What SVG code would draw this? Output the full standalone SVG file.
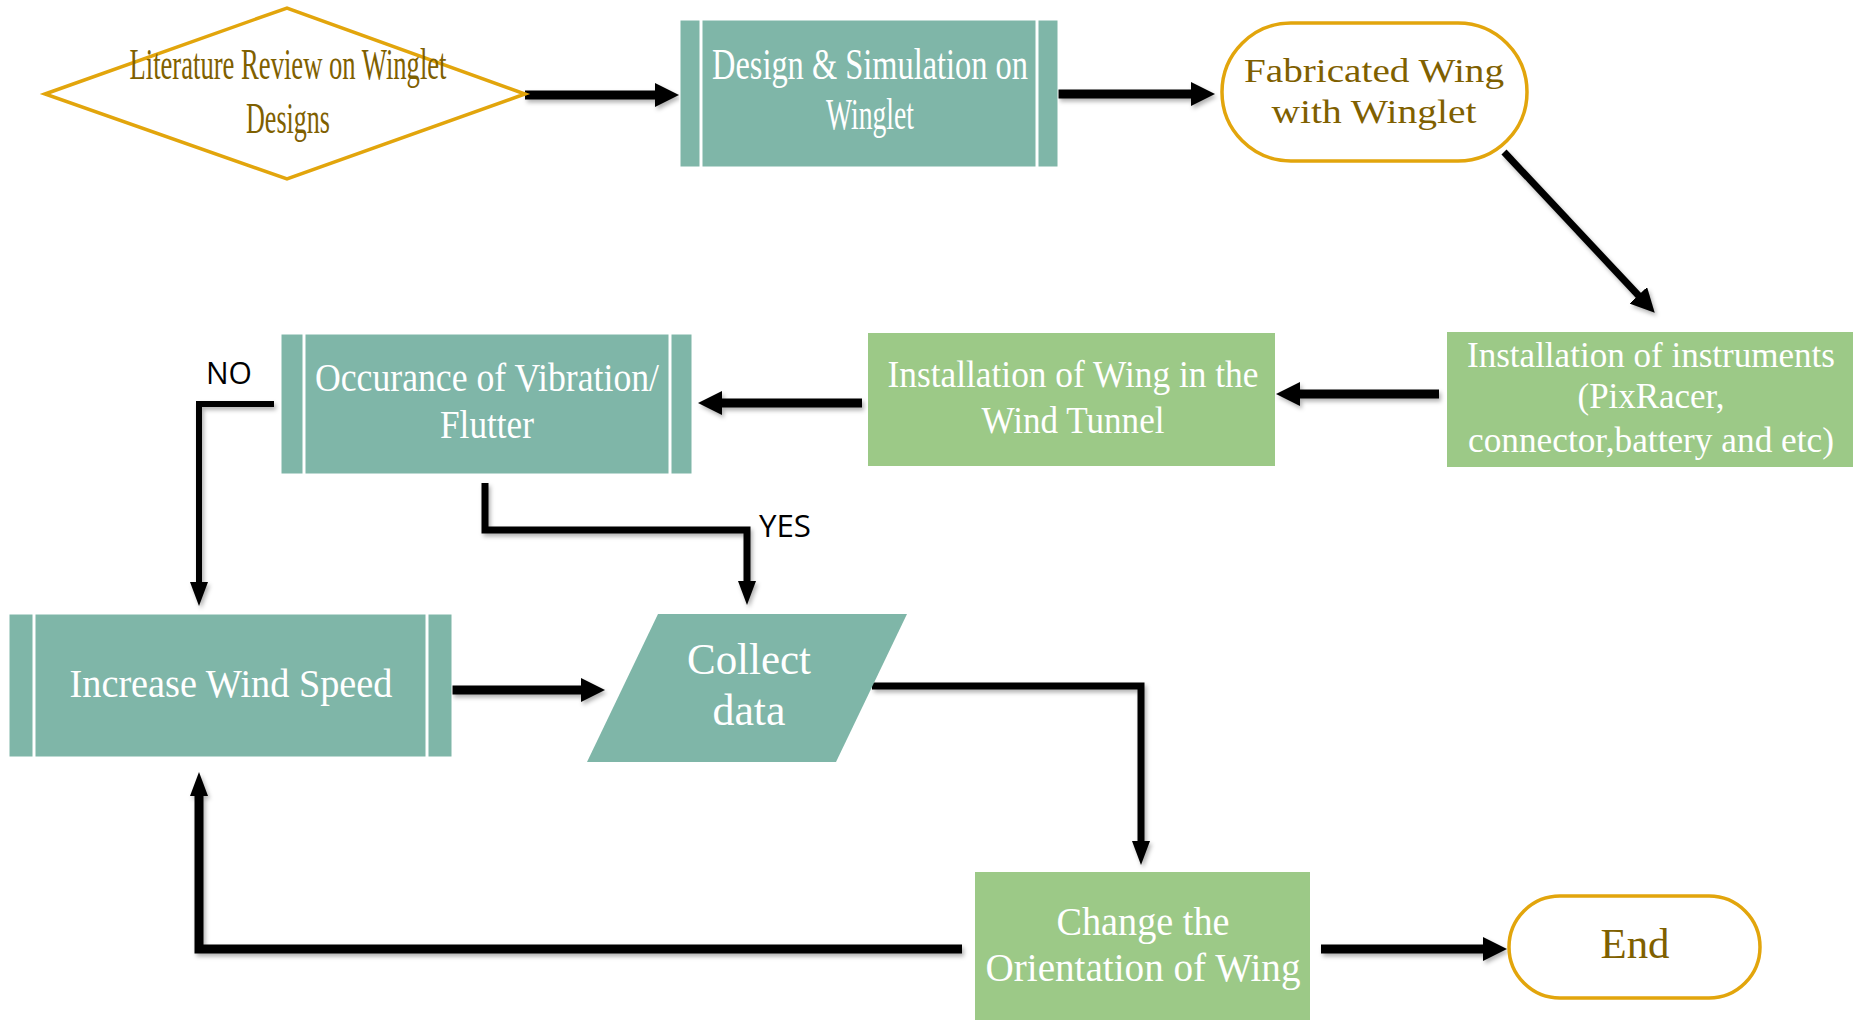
<svg xmlns="http://www.w3.org/2000/svg" width="1860" height="1020" viewBox="0 0 1860 1020">
<style>
.teal{fill:#7fb6a8;stroke:#ffffff;stroke-width:1}
.green{fill:#9cc987}
.div{stroke:#ffffff;stroke-width:3}
.term{fill:#ffffff;stroke:#e2a50c;stroke-width:3.5}
.tw{font-family:"Liberation Serif","Times New Roman",serif;fill:#ffffff;text-anchor:middle}
.tb{font-family:"Liberation Serif","Times New Roman",serif;fill:#7f6000;text-anchor:middle}
.lab{font-family:"Open Sans","Liberation Sans",sans-serif;fill:#000000;text-anchor:middle;font-size:31px}
.con{fill:none;stroke:#000000;stroke-linejoin:miter}
</style>
<defs>
<marker id="ah" markerUnits="userSpaceOnUse" viewBox="0 0 24 24" markerWidth="24" markerHeight="24" refX="1" refY="12" orient="auto">
<path d="M0,0 L24,12 L0,24 z" fill="#000"/>
</marker>
<marker id="ahs" markerUnits="userSpaceOnUse" viewBox="0 0 24 18" markerWidth="24" markerHeight="18" refX="1" refY="9" orient="auto">
<path d="M0,0 L24,9 L0,18 z" fill="#000"/>
</marker>
<filter id="sh" x="-5%" y="-5%" width="110%" height="120%">
<feDropShadow dx="2" dy="3" stdDeviation="2" flood-color="#000" flood-opacity="0.3"/>
</filter>
</defs>

<g id="connectors" filter="url(#sh)">
<path class="con" stroke-width="9" d="M525,95 L656,95" marker-end="url(#ah)"/>
<path class="con" stroke-width="9" d="M1058,94 L1192,94" marker-end="url(#ah)"/>
<path class="con" stroke-width="7" d="M1504,152 L1639,296" marker-end="url(#ah)"/>
<path class="con" stroke-width="9" d="M1439,394 L1299,394" marker-end="url(#ah)"/>
<path class="con" stroke-width="9" d="M862,403 L721,403" marker-end="url(#ah)"/>
<path class="con" stroke-width="6" d="M274,404 L199,404 L199,583" marker-end="url(#ahs)"/>
<path class="con" stroke-width="7" d="M485,483 L485,530 L747,530 L747,582" marker-end="url(#ahs)"/>
<path class="con" stroke-width="9" d="M452,690 L582,690" marker-end="url(#ah)"/>
<path class="con" stroke-width="7" d="M872,686 L1141,686 L1141,842" marker-end="url(#ahs)"/>
<path class="con" stroke-width="9" d="M962,949 L199,949 L199,795" marker-end="url(#ahs)"/>
<path class="con" stroke-width="9" d="M1321,949 L1484,949" marker-end="url(#ah)"/>
</g>

<g id="literature-review">
<polygon class="term" points="45,94 287,8 525,94 287,179"/>
<text class="tb" x="288" y="79" font-size="45" textLength="317" lengthAdjust="spacingAndGlyphs">Literature Review on Winglet</text>
<text class="tb" x="288" y="133" font-size="45" textLength="84" lengthAdjust="spacingAndGlyphs">Designs</text>
</g>

<g id="design-simulation">
<rect class="teal" x="680" y="20" width="378" height="147"/>
<line class="div" x1="701" y1="20" x2="701" y2="167"/>
<line class="div" x1="1037" y1="20" x2="1037" y2="167"/>
<text class="tw" x="870" y="79" font-size="44" textLength="316" lengthAdjust="spacingAndGlyphs">Design &amp; Simulation on</text>
<text class="tw" x="870" y="129" font-size="44" textLength="88" lengthAdjust="spacingAndGlyphs">Winglet</text>
</g>

<g id="fabricated-wing">
<rect class="term" x="1222" y="23" width="305" height="138" rx="69" ry="69"/>
<text class="tb" x="1374" y="82" font-size="34" textLength="260" lengthAdjust="spacingAndGlyphs">Fabricated Wing</text>
<text class="tb" x="1374" y="123" font-size="34" textLength="205" lengthAdjust="spacingAndGlyphs">with Winglet</text>
</g>

<g id="install-instruments">
<rect class="green" x="1447" y="332" width="406" height="135"/>
<text class="tw" x="1651" y="367" font-size="35" textLength="368" lengthAdjust="spacingAndGlyphs">Installation of instruments</text>
<text class="tw" x="1651" y="408" font-size="35" textLength="147" lengthAdjust="spacingAndGlyphs">(PixRacer,</text>
<text class="tw" x="1651" y="452" font-size="35" textLength="366" lengthAdjust="spacingAndGlyphs">connector,battery and etc)</text>
</g>

<g id="install-wing">
<rect class="green" x="868" y="333" width="407" height="133"/>
<text class="tw" x="1073" y="387" font-size="38" textLength="371" lengthAdjust="spacingAndGlyphs">Installation of Wing in the</text>
<text class="tw" x="1073" y="433" font-size="38" textLength="183" lengthAdjust="spacingAndGlyphs">Wind Tunnel</text>
</g>

<g id="occurance">
<rect class="teal" x="281" y="334" width="411" height="140"/>
<line class="div" x1="304" y1="334" x2="304" y2="474"/>
<line class="div" x1="670" y1="334" x2="670" y2="474"/>
<text class="tw" x="487" y="391" font-size="41" textLength="344" lengthAdjust="spacingAndGlyphs">Occurance of Vibration/</text>
<text class="tw" x="487" y="438" font-size="41" textLength="94" lengthAdjust="spacingAndGlyphs">Flutter</text>
</g>

<g id="label-no"><text class="lab" x="229" y="384" textLength="46" lengthAdjust="spacingAndGlyphs">NO</text></g>
<g id="label-yes"><text class="lab" x="785" y="537" textLength="52" lengthAdjust="spacingAndGlyphs">YES</text></g>

<g id="increase-speed">
<rect class="teal" x="9" y="614" width="443" height="143"/>
<line class="div" x1="34" y1="614" x2="34" y2="757"/>
<line class="div" x1="427" y1="614" x2="427" y2="757"/>
<text class="tw" x="231" y="697" font-size="41" textLength="323" lengthAdjust="spacingAndGlyphs">Increase Wind Speed</text>
</g>

<g id="collect-data">
<polygon fill="#7fb6a8" points="658,614 907,614 836,762 587,762"/>
<text class="tw" x="749" y="674" font-size="44" textLength="124" lengthAdjust="spacingAndGlyphs">Collect</text>
<text class="tw" x="749" y="725" font-size="44" textLength="73" lengthAdjust="spacingAndGlyphs">data</text>
</g>

<g id="change-orientation">
<rect class="green" x="975" y="872" width="335" height="148"/>
<text class="tw" x="1143" y="935" font-size="40" textLength="173" lengthAdjust="spacingAndGlyphs">Change the</text>
<text class="tw" x="1143" y="981" font-size="40" textLength="315" lengthAdjust="spacingAndGlyphs">Orientation of Wing</text>
</g>

<g id="end">
<rect class="term" x="1509" y="896" width="251" height="102" rx="51" ry="51"/>
<text class="tb" x="1635" y="958" font-size="43" textLength="69" lengthAdjust="spacingAndGlyphs">End</text>
</g>
</svg>
